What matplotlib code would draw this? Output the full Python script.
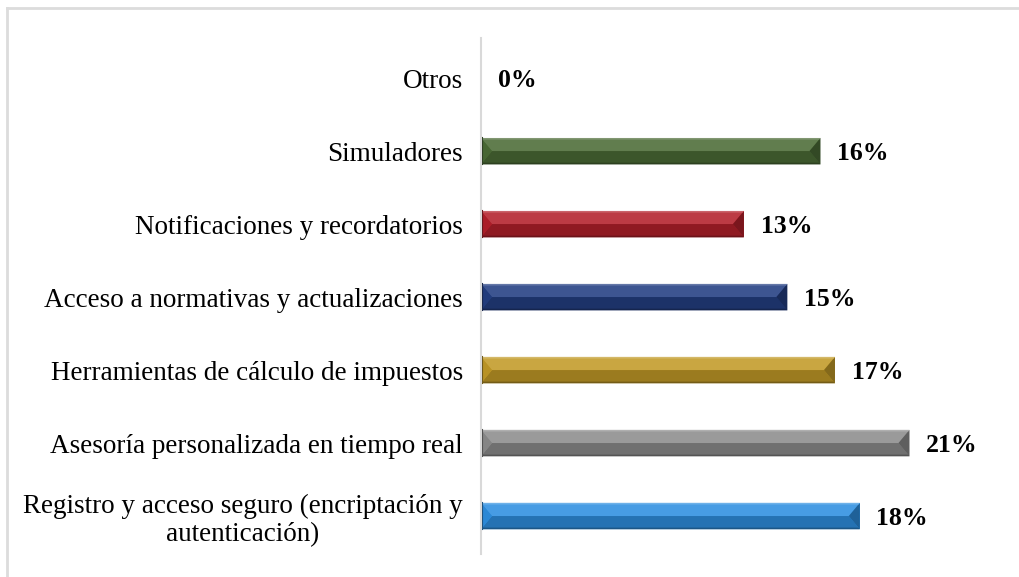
import numpy as np
import matplotlib.pyplot as plt
from matplotlib.patches import Polygon
from matplotlib.colors import to_rgb
from matplotlib.lines import Line2D

# survey answers, bottom to top
categorias = ['Registro y acceso seguro (encriptación y\nautenticación)',
              'Asesoría personalizada en tiempo real',
              'Herramientas de cálculo de impuestos',
              'Acceso a normativas y actualizaciones',
              'Notificaciones y recordatorios',
              'Simuladores',
              'Otros']
porcentajes = [18.3, 20.7, 17.1, 14.8, 12.7, 16.4, 0.0]
colores = ['#2E8FE0', '#8C8C8C', '#C29A27', '#233E82', '#B3202A', '#4B6B36', '#4B6B36']

plt.rcParams['font.family'] = ['Liberation Serif', 'DejaVu Serif']


def mezcla(c, otro, t):
    c = np.array(to_rgb(c))
    return tuple(c + (np.array(otro) - c) * t)


fig = plt.figure(figsize=(10.2, 5.77), dpi=100)
W, H = 1020, 577
ax = fig.add_axes([481 / W, 23 / H, 520 / W, 516 / H])

y = np.arange(len(categorias))
alto = 0.36
barras = ax.barh(y, porcentajes, height=alto, color=colores, linewidth=0)

ax.set_xlim(0, 520 / 20.7)
ax.set_ylim(-0.52, 6.55)

# bevelled look on each bar
b = 11 / 20.7
for rect, col in zip(barras, colores):
    x0, y0 = rect.get_x(), rect.get_y()
    w, h = rect.get_width(), rect.get_height()
    if w <= 0:
        continue
    bw = min(b, w / 2)
    x1 = x0 + w
    top, bot, mid = y0 + h, y0, y0 + h / 2
    claro = mezcla(col, (1, 1, 1), 0.12)
    oscuro = mezcla(col, (0, 0, 0), 0.2)
    piezas = [
        ([(x0, top), (x1, top), (x1 - bw, mid), (x0 + bw, mid)], claro),
        ([(x0, bot), (x1, bot), (x1 - bw, mid), (x0 + bw, mid)], oscuro),
        ([(x0, top), (x0 + bw, mid), (x0, bot)], mezcla(col, (0, 0, 0), 0.05)),
        ([(x1, top), (x1 - bw, mid), (x1, bot)], mezcla(col, (0, 0, 0), 0.32)),
        ([(x0, top), (x1, top), (x1 - 0.06, top - h * 0.06), (x0 + 0.06, top - h * 0.06)],
         mezcla(col, (1, 1, 1), 0.3)),
        ([(x0, bot), (x1, bot), (x1 - 0.06, bot + h * 0.06), (x0 + 0.06, bot + h * 0.06)],
         mezcla(col, (0, 0, 0), 0.4)),
    ]
    for pts, c in piezas:
        ax.add_patch(Polygon(pts, closed=True, facecolor=c, edgecolor='none'))
    ax.plot([x0 + 0.04, x0 + 0.04], [bot, top], color=mezcla(col, (0, 0, 0), 0.45), lw=1.5)

# value labels
for v, yy in zip(porcentajes, y):
    ax.annotate(f'{v:.0f}%', (v, yy), xytext=(12, -2), textcoords='offset points',
                ha='left', va='center', fontsize=18.5, fontweight='bold')

ax.set_yticks(y)
ax.set_yticklabels(categorias, fontsize=19.5)
for t in ax.get_yticklabels():
    t.set_multialignment('center')
    t.set_linespacing(1.15)
ax.tick_params(axis='y', length=0, pad=13)
ax.set_xticks([])
for s in ['top', 'right', 'bottom']:
    ax.spines[s].set_visible(False)
ax.spines['left'].set_color('#d9d9d9')
ax.spines['left'].set_linewidth(1.5)

# outer frame
fig.add_artist(Line2D([7 / W, 1], [1 - 8 / H, 1 - 8 / H], transform=fig.transFigure,
                      color='#dcdcdc', lw=2))
fig.add_artist(Line2D([7 / W, 7 / W], [0, 1 - 8 / H], transform=fig.transFigure,
                      color='#dcdcdc', lw=2))

fig.savefig('out.png', dpi=100)
